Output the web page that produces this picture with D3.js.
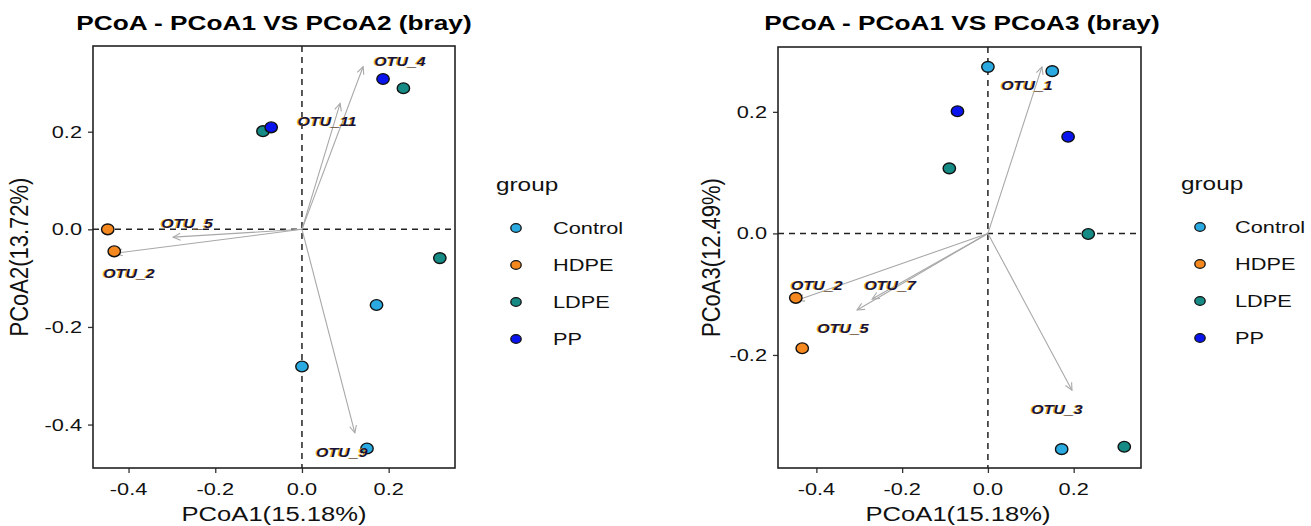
<!DOCTYPE html>
<html>
<head>
<meta charset="utf-8">
<script src="https://cdn.jsdelivr.net/npm/d3@7"></script>
<style>
  html, body { margin: 0; padding: 0; background: #fff; }
  svg { display: block; font-family: "Liberation Sans", Arial, sans-serif; }
</style>
</head>
<body>
<svg id="chart" width="1311" height="526"></svg>
<script>
// ---- data ----
const groups = ["Control", "HDPE", "LDPE", "PP"];
const groupColors = ["#2AAAE0", "#F5881F", "#168A84", "#0A14EE"];
const sampleGroup = ["Control", "Control", "Control", "HDPE", "HDPE", "LDPE", "LDPE", "LDPE", "PP", "PP"];
const pcoa1 = [0.172, 0.000, 0.150, -0.448, -0.433, 0.234, -0.090, 0.318, 0.187, -0.071];
const pcoa2 = [-0.155, -0.281, -0.449, 0.000, -0.045, 0.289, 0.201, -0.059, 0.308, 0.209];
const pcoa3 = [-0.355, 0.274, 0.267, -0.106, -0.189, -0.001, 0.107, -0.351, 0.159, 0.201];

// species arrows, panel 1 (PCoA1 vs PCoA2)
const otuA = ["OTU_4", "OTU_11", "OTU_5", "OTU_2", "OTU_9"];
const arrowA1 = [0.141, 0.088, -0.297, -0.431, 0.122];
const arrowA2 = [0.333, 0.258, -0.016, -0.049, -0.417];
const labelA1 = [0.226, 0.058, -0.265, -0.399, 0.092];
const labelA2 = [0.343, 0.220, 0.011, -0.090, -0.458];

// species arrows, panel 2 (PCoA1 vs PCoA3)
const otuB = ["OTU_1", "OTU_2", "OTU_7", "OTU_5", "OTU_3"];
const arrowB1 = [0.126, -0.445, -0.270, -0.305, 0.196];
const arrowB3 = [0.274, -0.110, -0.108, -0.126, -0.258];
const labelB1 = [0.091, -0.399, -0.228, -0.338, 0.161];
const labelB3 = [0.244, -0.085, -0.085, -0.156, -0.289];

const xTicks = [-0.4, -0.2, 0.0, 0.2];
const yTicksA = [0.2, 0.0, -0.2, -0.4];
const yTicksB = [0.2, 0.0, -0.2];
const titles = ["PCoA - PCoA1 VS PCoA2 (bray)", "PCoA - PCoA1 VS PCoA3 (bray)"];
const xTitle = "PCoA1(15.18%)";
const yTitles = ["PCoA2(13.72%)", "PCoA3(12.49%)"];
const legendTitle = "group";

// ---- drawing ----
const svg = d3.select("#chart");
const SX = 1.28; // horizontal stretch of all text in the reference
const color = d3.scaleOrdinal().domain(groups).range(groupColors);
const fmt = t => d3.format(".1f")(t).replace("\u2212", "-");

function txt(g, x, y, s, o = {}) {
  return g.append("text")
    .attr("transform", `translate(${x},${y}) scale(${o.sx || SX},1)`)
    .attr("text-anchor", o.anchor || "middle")
    .attr("font-size", o.size || 16)
    .attr("font-weight", o.weight || "normal")
    .attr("font-style", o.style || "normal")
    .attr("fill", o.fill || "#111")
    .text(s);
}

function panel(cfg) {
  const g = svg.append("g");
  const x = d3.scaleLinear().domain(cfg.xDomain).range([cfg.left, cfg.right]);
  const y = d3.scaleLinear().domain(cfg.yDomain).range([cfg.bottom, cfg.top]);

  // title
  txt(g, cfg.titleX, 30, cfg.title, { size: 20.5, weight: "bold", fill: "#000" });

  // axes
  const xa = g.append("g").attr("transform", `translate(0,${cfg.bottom})`)
    .call(d3.axisBottom(x).tickValues(xTicks).tickFormat(fmt).tickSize(5).tickPadding(3));
  const ya = g.append("g").attr("transform", `translate(${cfg.left},0)`)
    .call(d3.axisLeft(y).tickValues(cfg.yTicks).tickFormat(fmt).tickSize(5).tickPadding(3));
  [xa, ya].forEach(a => {
    a.select(".domain").remove();
    a.selectAll(".tick line").attr("stroke", "#333").attr("stroke-width", 1.3);
    a.selectAll(".tick text").remove();
  });
  xTicks.forEach(t => txt(g, x(t), cfg.bottom + 27, fmt(t), { size: 17, fill: "#111" }));
  cfg.yTicks.forEach(t => txt(g, cfg.left - 11, y(t) + 6, fmt(t), { size: 17, anchor: "end", fill: "#111" }));

  // axis titles
  txt(g, cfg.xTitleX, 521, xTitle, { size: 20, fill: "#111" });
  g.append("text")
    .attr("transform", `translate(${cfg.yTitleX},${(cfg.top + cfg.bottom) / 2}) rotate(-90) scale(1,1.2)`)
    .attr("text-anchor", "middle").attr("font-size", 22).attr("fill", "#111")
    .text(cfg.yTitle);

  // zero lines
  g.append("line").attr("x1", x(0)).attr("x2", x(0)).attr("y1", cfg.top).attr("y2", cfg.bottom)
    .attr("stroke", "#222").attr("stroke-width", 1.5).attr("stroke-dasharray", "6,5");
  g.append("line").attr("x1", cfg.left).attr("x2", cfg.right).attr("y1", y(0)).attr("y2", y(0))
    .attr("stroke", "#222").attr("stroke-width", 1.5).attr("stroke-dasharray", "6,5");

  // arrows
  cfg.ax.forEach((ax, i) => {
    const x0 = x(0), y0 = y(0), x1 = x(ax), y1 = y(cfg.ay[i]);
    g.append("line").attr("x1", x0).attr("y1", y0).attr("x2", x1).attr("y2", y1)
      .attr("stroke", "#a8a8a8").attr("stroke-width", 1.1);
    const ang = Math.atan2(y1 - y0, x1 - x0), L = 8, h = Math.PI / 7;
    const p = [[x1 - L * Math.cos(ang - h), y1 - L * Math.sin(ang - h)], [x1, y1],
               [x1 - L * Math.cos(ang + h), y1 - L * Math.sin(ang + h)]];
    g.append("path").attr("d", d3.line()(p)).attr("fill", "none")
      .attr("stroke", "#a8a8a8").attr("stroke-width", 1.1);
  });

  // points
  pcoa1.forEach((v, i) => {
    g.append("ellipse").attr("cx", x(v)).attr("cy", y(cfg.ys[i]))
      .attr("rx", 6.2).attr("ry", 5.4)
      .attr("fill", color(sampleGroup[i])).attr("stroke", "#111").attr("stroke-width", 1.4);
  });

  // OTU labels
  cfg.names.forEach((n, i) => {
    const lx = x(cfg.lx[i]), ly = y(cfg.ly[i]) + 4.5;
    txt(g, lx - 1.2, ly, n, { size: 12.5, weight: "bold", style: "italic", fill: "#f0b21e", sx: 1.28 });
    txt(g, lx, ly, n, { size: 12.5, weight: "bold", style: "italic", fill: "#14143c", sx: 1.28 });
  });

  // panel border
  g.append("rect").attr("x", cfg.left).attr("y", cfg.top)
    .attr("width", cfg.right - cfg.left).attr("height", cfg.bottom - cfg.top)
    .attr("fill", "none").attr("stroke", "#222").attr("stroke-width", 1.6);

  // legend
  const lg = svg.append("g");
  txt(lg, cfg.legX, cfg.legY, legendTitle, { size: 19, anchor: "start", fill: "#111" });
  groups.forEach((gr, i) => {
    const cy = cfg.legY + 37 + i * 37;
    lg.append("ellipse").attr("cx", cfg.legSym).attr("cy", cy).attr("rx", 5.2).attr("ry", 4.3)
      .attr("fill", color(gr)).attr("stroke", "#111").attr("stroke-width", 1.3);
    txt(lg, cfg.legText, cy + 6, gr, { size: 17, anchor: "start", fill: "#111" });
  });
}

panel({
  left: 93, right: 455, top: 46, bottom: 468,
  xDomain: [-0.482, 0.353], yDomain: [-0.489, 0.3756],
  yTicks: yTicksA, ys: pcoa2,
  title: titles[0], titleX: 274, xTitleX: 274, yTitle: yTitles[0], yTitleX: 28,
  ax: arrowA1, ay: arrowA2, names: otuA, lx: labelA1, ly: labelA2,
  legX: 496, legY: 191, legSym: 516, legText: 553
});

panel({
  left: 778, right: 1141, top: 47, bottom: 468,
  xDomain: [-0.4895, 0.357], yDomain: [-0.386, 0.3067],
  yTicks: yTicksB, ys: pcoa3,
  title: titles[1], titleX: 962, xTitleX: 958, yTitle: yTitles[1], yTitleX: 720,
  ax: arrowB1, ay: arrowB3, names: otuB, lx: labelB1, ly: labelB3,
  legX: 1181, legY: 190, legSym: 1200, legText: 1235
});
</script>
</body>
</html>
